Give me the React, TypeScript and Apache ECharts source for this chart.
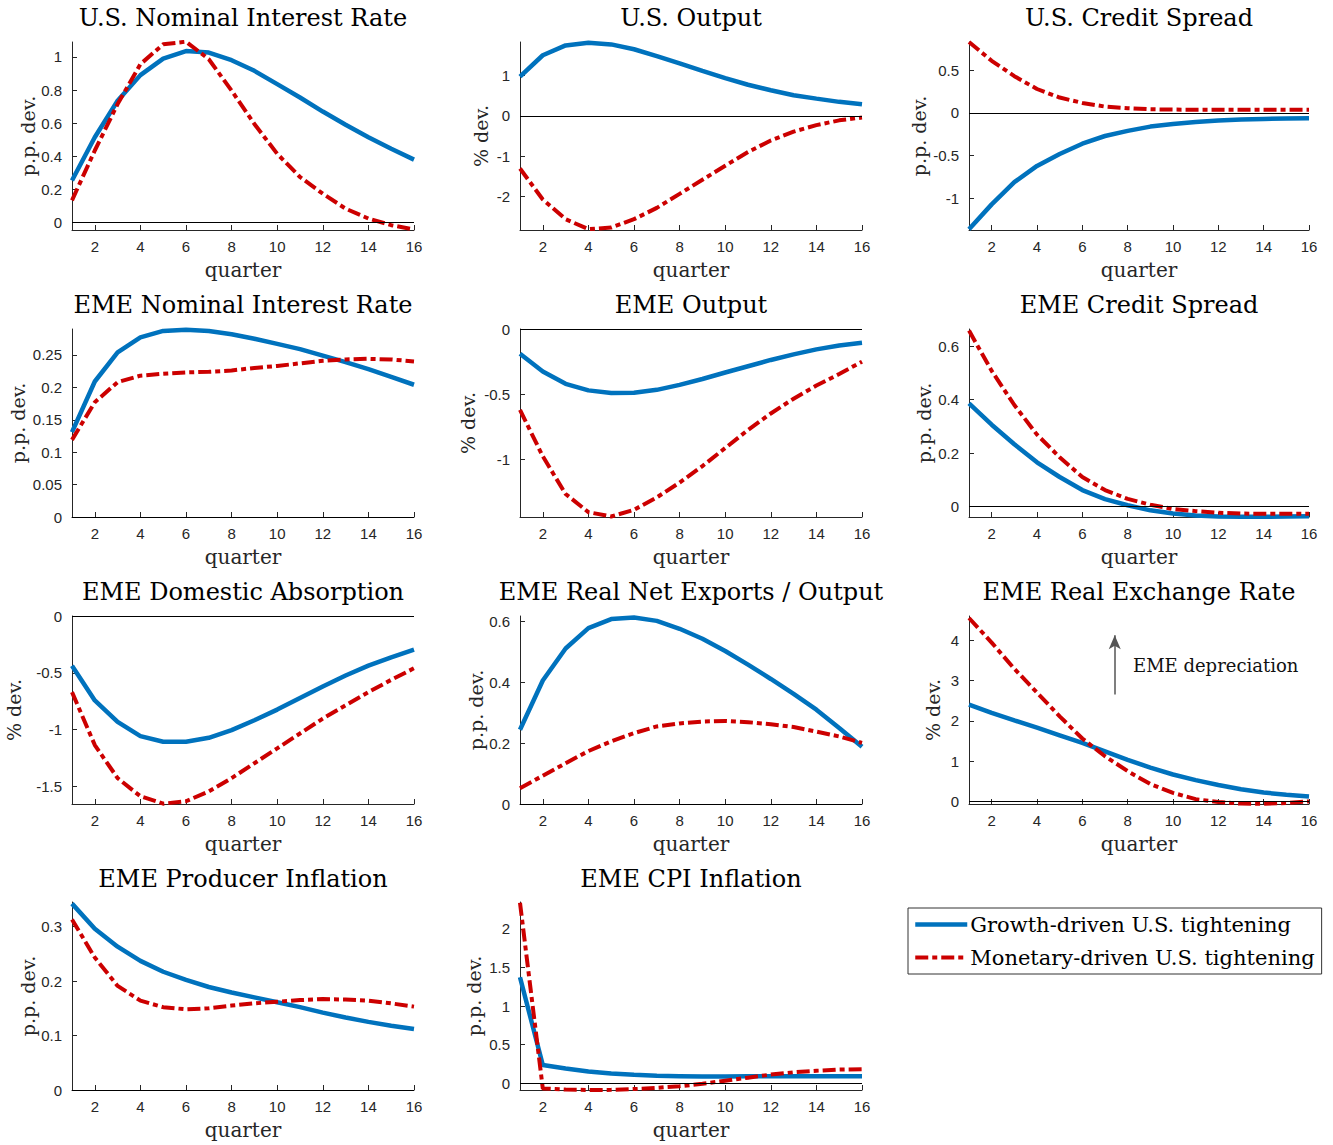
import React, { useEffect, useRef } from "react";
import * as echarts from "echarts";

const quarters = [1, 2, 3, 4, 5, 6, 7, 8, 9, 10, 11, 12, 13, 14, 15, 16];
const xTicks = [2, 4, 6, 8, 10, 12, 14, 16];
const GROWTH = "Growth-driven U.S. tightening";
const MONETARY = "Monetary-driven U.S. tightening";

const usRateGrowth = [0.254, 0.515, 0.735, 0.89, 0.99, 1.035, 1.026, 0.98, 0.916, 0.836, 0.755, 0.67, 0.59, 0.515, 0.445, 0.38];
const usRateMonetary = [0.134, 0.435, 0.715, 0.956, 1.076, 1.092, 0.986, 0.796, 0.595, 0.415, 0.275, 0.174, 0.084, 0.024, -0.016, -0.042];

const usOutputGrowth = [0.98, 1.51, 1.755, 1.82, 1.78, 1.66, 1.49, 1.31, 1.12, 0.94, 0.775, 0.64, 0.515, 0.43, 0.35, 0.29];
const usOutputMonetary = [-1.31, -2.08, -2.57, -2.82, -2.78, -2.57, -2.29, -1.94, -1.59, -1.24, -0.9, -0.61, -0.39, -0.23, -0.11, -0.04];

const usSpreadGrowth = [-1.36, -1.07, -0.81, -0.62, -0.48, -0.36, -0.27, -0.21, -0.16, -0.13, -0.105, -0.09, -0.078, -0.07, -0.066, -0.062];
const usSpreadMonetary = [0.83, 0.61, 0.43, 0.28, 0.18, 0.117, 0.074, 0.055, 0.043, 0.039, 0.038, 0.038, 0.037, 0.037, 0.037, 0.037];

const emeRateGrowth = [0.131, 0.209, 0.254, 0.277, 0.287, 0.289, 0.287, 0.282, 0.275, 0.267, 0.259, 0.249, 0.239, 0.228, 0.216, 0.204];
const emeRateMonetary = [0.119, 0.177, 0.208, 0.218, 0.221, 0.223, 0.224, 0.226, 0.23, 0.233, 0.237, 0.241, 0.243, 0.244, 0.243, 0.24];

const emeOutputGrowth = [-0.19, -0.325, -0.42, -0.47, -0.49, -0.489, -0.466, -0.428, -0.383, -0.333, -0.285, -0.237, -0.194, -0.156, -0.126, -0.106];
const emeOutputMonetary = [-0.62, -0.975, -1.264, -1.403, -1.436, -1.385, -1.29, -1.176, -1.05, -0.912, -0.773, -0.647, -0.534, -0.433, -0.345, -0.25];

const emeSpreadGrowth = [0.386, 0.306, 0.233, 0.165, 0.11, 0.061, 0.027, 0.004, -0.015, -0.027, -0.034, -0.038, -0.039, -0.039, -0.038, -0.037];
const emeSpreadMonetary = [0.659, 0.508, 0.38, 0.269, 0.184, 0.11, 0.061, 0.028, 0.006, -0.01, -0.018, -0.024, -0.027, -0.028, -0.028, -0.028];

const absorptionGrowth = [-0.437, -0.743, -0.932, -1.057, -1.107, -1.107, -1.072, -1.005, -0.918, -0.824, -0.722, -0.62, -0.524, -0.437, -0.364, -0.297];
const absorptionMonetary = [-0.67, -1.136, -1.427, -1.587, -1.652, -1.631, -1.544, -1.427, -1.296, -1.165, -1.034, -0.903, -0.786, -0.67, -0.562, -0.46];

const netExportsGrowth = [0.244, 0.406, 0.511, 0.578, 0.608, 0.613, 0.602, 0.576, 0.543, 0.503, 0.458, 0.411, 0.362, 0.31, 0.25, 0.188];
const netExportsMonetary = [0.052, 0.093, 0.134, 0.174, 0.206, 0.233, 0.255, 0.265, 0.271, 0.273, 0.269, 0.262, 0.253, 0.238, 0.222, 0.201];

const rerGrowth = [2.4, 2.195, 2.01, 1.83, 1.64, 1.45, 1.24, 1.03, 0.84, 0.667, 0.528, 0.406, 0.3, 0.22, 0.163, 0.122];
const rerMonetary = [4.55, 3.94, 3.29, 2.7, 2.11, 1.56, 1.12, 0.75, 0.43, 0.21, 0.055, -0.016, -0.055, -0.06, -0.04, 0.0];

const producerGrowth = [0.342, 0.296, 0.263, 0.237, 0.217, 0.202, 0.189, 0.179, 0.17, 0.161, 0.152, 0.142, 0.133, 0.125, 0.118, 0.112];
const producerMonetary = [0.313, 0.243, 0.191, 0.164, 0.152, 0.148, 0.15, 0.155, 0.159, 0.162, 0.165, 0.167, 0.166, 0.164, 0.159, 0.153];

const cpiGrowth = [1.373, 0.235, 0.19, 0.15, 0.124, 0.107, 0.094, 0.09, 0.085, 0.085, 0.087, 0.088, 0.09, 0.09, 0.09, 0.09];
const cpiMonetary = [2.34, -0.07, -0.085, -0.09, -0.088, -0.078, -0.062, -0.04, -0.01, 0.03, 0.07, 0.11, 0.14, 0.16, 0.175, 0.18];

const titles = [
  "U.S. Nominal Interest Rate", "U.S. Output", "U.S. Credit Spread",
  "EME Nominal Interest Rate", "EME Output", "EME Credit Spread",
  "EME Domestic Absorption", "EME Real Net Exports / Output", "EME Real Exchange Rate",
  "EME Producer Inflation", "EME CPI Inflation",
];
const yLabels = ["p.p. dev.", "% dev.", "p.p. dev.", "p.p. dev.", "% dev.", "p.p. dev.", "% dev.", "p.p. dev.", "% dev.", "p.p. dev.", "p.p. dev."];
const growthSeries = [usRateGrowth, usOutputGrowth, usSpreadGrowth, emeRateGrowth, emeOutputGrowth, emeSpreadGrowth, absorptionGrowth, netExportsGrowth, rerGrowth, producerGrowth, cpiGrowth];
const monetarySeries = [usRateMonetary, usOutputMonetary, usSpreadMonetary, emeRateMonetary, emeOutputMonetary, emeSpreadMonetary, absorptionMonetary, netExportsMonetary, rerMonetary, producerMonetary, cpiMonetary];
const yTicks = [
  [0, 0.2, 0.4, 0.6, 0.8, 1],
  [-2, -1, 0, 1],
  [-1, -0.5, 0, 0.5],
  [0, 0.05, 0.1, 0.15, 0.2, 0.25],
  [-1, -0.5, 0],
  [0, 0.2, 0.4, 0.6],
  [-1.5, -1, -0.5, 0],
  [0, 0.2, 0.4, 0.6],
  [0, 1, 2, 3, 4],
  [0, 0.1, 0.2, 0.3],
  [0, 0.5, 1, 1.5, 2],
];
const yMin = [-0.045, -2.84, -1.37, 0, -1.44, -0.04, -1.655, 0, -0.065, 0, -0.09];
const yMax = [1.09, 1.84, 0.83, 0.29, 0, 0.665, 0, 0.618, 4.6, 0.345, 2.35];

// layout (pixels)
const colLeft = [72, 520, 969];
const colWidth = [342, 342, 340];
const rowTop = [42, 329, 616, 902];
const plotHeight = 188;
const titleY = [18, 305, 592, 879];
const yNameGap = [34, 30, 41, 45, 43, 36, 49, 35, 27, 35, 37];

const SERIF = "DejaVu Serif";
const SANS = "Liberation Sans";
const AXIS_COLOR = "#262626";
const BLUE = "#0072BD";
const RED = "#CC0000";

function buildOption() {
  const grid: any[] = [];
  const xAxis: any[] = [];
  const yAxis: any[] = [];
  const series: any[] = [];
  const graphic: any[] = [];

  titles.forEach((title, i) => {
    const col = i % 3;
    const row = Math.floor(i / 3);
    grid.push({ left: colLeft[col], top: rowTop[row], width: colWidth[col], height: plotHeight, containLabel: false });
    xAxis.push({
      gridIndex: i, type: "value", min: 1, max: 16,
      axisLine: { show: true, onZero: false, lineStyle: { color: AXIS_COLOR, width: 1 } },
      axisTick: { show: true, inside: true, length: 5, customValues: xTicks, lineStyle: { color: AXIS_COLOR } },
      axisLabel: { customValues: xTicks, fontFamily: SANS, fontSize: 15, color: AXIS_COLOR, margin: 9 },
      splitLine: { show: false },
      name: "quarter", nameLocation: "middle", nameGap: 30,
      nameTextStyle: { fontFamily: SERIF, fontSize: 20, color: AXIS_COLOR },
    });
    yAxis.push({
      gridIndex: i, type: "value", min: yMin[i], max: yMax[i],
      axisLine: { show: true, onZero: false, lineStyle: { color: AXIS_COLOR, width: 1 } },
      axisTick: { show: true, inside: true, length: 5, customValues: yTicks[i], lineStyle: { color: AXIS_COLOR } },
      axisLabel: { customValues: yTicks[i], fontFamily: SANS, fontSize: 15, color: AXIS_COLOR, margin: 10, formatter: (v: number) => String(v) },
      splitLine: { show: false },
      name: yLabels[i], nameLocation: "middle", nameGap: yNameGap[i], nameRotate: 90,
      nameTextStyle: { fontFamily: SERIF, fontSize: 19, color: AXIS_COLOR },
    });

    const markData: any[] = [{ yAxis: 0, lineStyle: { color: "#000", width: 1, type: "solid" } }];
    if (i === 8) {
      markData.push([
        { coord: [7.43, 2.65], symbol: "none", lineStyle: { color: "#555", width: 1.5, type: "solid" } },
        { coord: [7.43, 4.12], symbol: "arrow", symbolSize: [9, 14] },
      ]);
    }
    series.push({
      name: GROWTH, type: "line", xAxisIndex: i, yAxisIndex: i,
      data: quarters.map((q, k) => [q, growthSeries[i][k]]),
      symbol: "none", showSymbol: false, smooth: false,
      lineStyle: { color: BLUE, width: 4.5 }, itemStyle: { color: BLUE },
      markLine: { silent: true, symbol: ["none", "none"], label: { show: false }, animation: false, data: markData },
      z: 3,
    });
    series.push({
      name: MONETARY, type: "line", xAxisIndex: i, yAxisIndex: i,
      data: quarters.map((q, k) => [q, monetarySeries[i][k]]),
      symbol: "none", showSymbol: false, smooth: false,
      lineStyle: { color: RED, width: 4, type: [13, 4, 5, 4] }, itemStyle: { color: RED },
      z: 4,
    });

    graphic.push({
      type: "text", x: colLeft[col] + colWidth[col] / 2, y: titleY[row],
      style: { text: title, font: `24px "${SERIF}"`, fill: "#000", textAlign: "center", textVerticalAlign: "middle" },
    });
  });

  graphic.push({
    type: "text", x: 1133, y: 665,
    style: { text: "EME depreciation", font: `18px "${SERIF}"`, fill: "#111", textAlign: "left", textVerticalAlign: "middle" },
  });

  return {
    animation: false,
    backgroundColor: "#ffffff",
    grid, xAxis, yAxis, series, graphic,
    legend: {
      data: [GROWTH, MONETARY],
      orient: "vertical", left: 908, top: 908,
      itemWidth: 52, itemHeight: 14, itemGap: 12,
      padding: [6, 7, 6, 5],
      borderColor: "#333", borderWidth: 1, backgroundColor: "#fff",
      itemStyle: { color: "rgba(0,0,0,0)", borderWidth: 0, opacity: 0 },
      lineStyle: { width: "inherit", type: "inherit" },
      textStyle: { fontFamily: SERIF, fontSize: 21, color: "#000", padding: [0, 0, 0, -2] },
      selectedMode: false,
    },
  };
}

export default function App() {
  const ref = useRef<HTMLDivElement>(null);
  useEffect(() => {
    document.body.style.margin = "0";
    if (!ref.current) return;
    const chart = echarts.init(ref.current, undefined, { renderer: "svg" });
    chart.setOption(buildOption());
    return () => chart.dispose();
  }, []);
  return <div ref={ref} style={{ position: "absolute", left: 0, top: 0, width: 1333, height: 1145 }} />;
}
